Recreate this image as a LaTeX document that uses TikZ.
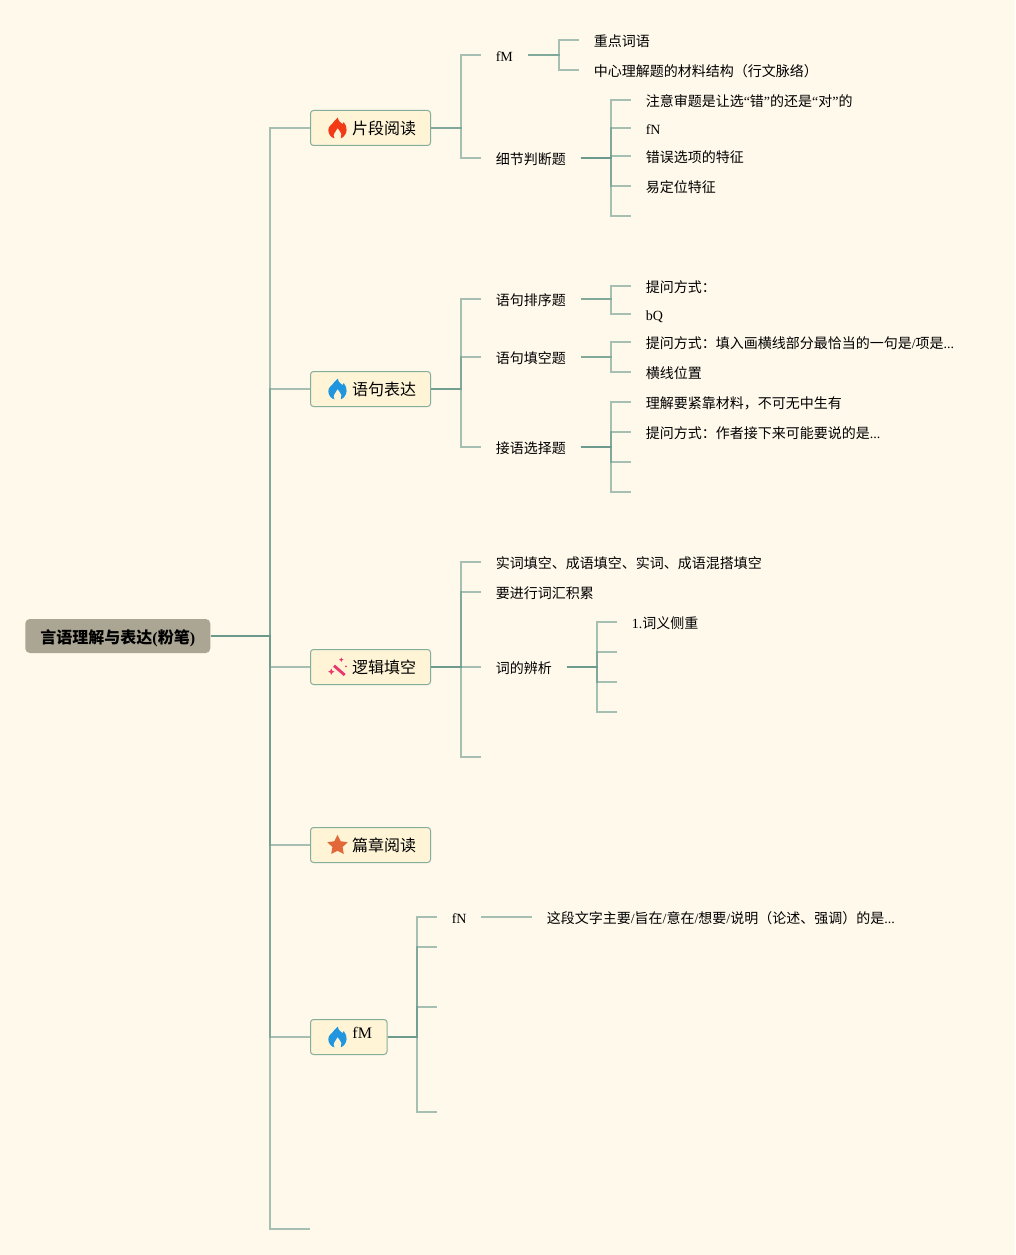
\documentclass[tikz,border=0pt]{standalone}
\usepackage{fontspec}
\setmainfont{Liberation Serif}
\newfontfamily\cjk{Noto Sans CJK SC}
\usetikzlibrary{calc}
\newdimen\px \px=0.75pt
\newcommand{\C}[1]{{\cjk #1}}
\definecolor{bgc}{HTML}{FFF9EC}
\definecolor{linec}{HTML}{6A9A8C}
\definecolor{topicfill}{HTML}{FFF5D6}
\definecolor{topicline}{HTML}{84AE9C}
\definecolor{rootfill}{HTML}{ABA694}
\definecolor{flamered}{HTML}{F23A17}
\definecolor{flameblue}{HTML}{2196DE}
\definecolor{starc}{HTML}{E2683A}
\definecolor{wandc}{HTML}{E8386F}
\tikzset{
  x=0.75pt,y=-0.75pt,
  rootbox/.style={draw=none,fill=rootfill,rounded corners=4.5\px,anchor=west,inner xsep=0pt,inner ysep=0pt,minimum width=185\px,minimum height=34\px,text height=15\px,text depth=0pt,font=\fontsize{12}{14}\selectfont\bfseries},
  topicbox/.style={draw=topicline,line width=1\px,fill=topicfill,rounded corners=3\px,anchor=west,inner xsep=14.5\px,inner ysep=0pt,minimum height=35\px,font=\fontsize{12}{14}\selectfont},
  leaf/.style={anchor=west,inner xsep=14.5\px,inner ysep=0pt,font=\fontsize{10.5}{12}\selectfont,text height=12.5\px,text depth=0pt},
  link/.style={draw=linec,line width=1.5\px,opacity=0.6,line join=miter},
}
% elbow connector: from #1 through the vertical at the x of #2 to #3
\newcommand{\elbow}[3]{\draw[link] (#1) -- (#1 -| #2) -- (#3 -| #2) -- (#3);}
\newcommand{\flame}[3]{% colour, x left, y top
  \begin{scope}[shift={(#2,#3)}]
    \fill[#1] (9.5,0) .. controls (10,4) and (13,5) .. (14.2,6.5)
      .. controls (15,5.8) and (15.4,5) .. (15.5,4.5)
      .. controls (17.5,7) and (18.5,10) .. (18.3,12.5)
      .. controls (18,16.5) and (15.5,19.5) .. (12.5,20.8)
      .. controls (14,18) and (13.5,15.5) .. (9.3,10.5)
      .. controls (7.5,14) and (3.5,17) .. (6.2,20.8)
      .. controls (3,20) and (0,17) .. (0,12.5)
      .. controls (0,8) and (4,7) .. (6,3.5)
      .. controls (7,2.2) and (8.5,1) .. (9.5,0) -- cycle;
  \end{scope}}
\begin{document}
\begin{tikzpicture}
\useasboundingbox (0,0) rectangle (1015,1255);
\fill[bgc] (0,0) rectangle (1015,1255);

% vertical rails
\coordinate (rail0) at (270,0);
\coordinate (rail1) at (461,0);
\coordinate (railA) at (559,0);
\coordinate (railB) at (611,0);
\coordinate (railC) at (597,0);
\coordinate (railD) at (417,0);

% root and topics
\node[rootbox] (root) at (25,636) {\C{言语理解与表达}(\C{粉笔})};
\node[topicbox] (t1) at (310,128) {\hspace*{27\px}\C{片段阅读}};
\node[topicbox] (t2) at (310,389) {\hspace*{27\px}\C{语句表达}};
\node[topicbox] (t3) at (310,667) {\hspace*{27\px}\C{逻辑填空}};
\node[topicbox] (t4) at (310,845) {\hspace*{27\px}\C{篇章阅读}};
\node[topicbox,minimum width=76.5\px,minimum height=35\px] (t5) at (310,1037) {\hspace*{27\px}\raisebox{8\px}{fM}};
\coordinate (t6) at (310,1229);

% icons
\flame{flamered}{328.3}{117.6}
\flame{flameblue}{328.3}{378.6}
\flame{flameblue}{328.3}{1026.6}
\begin{scope}[shift={(338,667)}]
  \draw[wandc,line width=2.8\px] (-4,-1.3) -- (6.7,8);
  \fill[wandc] (3.3,-9.6) -- (4,-8) -- (5.6,-7.3) -- (4,-6.6) -- (3.3,-5) -- (2.6,-6.6) -- (1,-7.3) -- (2.6,-8) -- cycle;
  \fill[wandc] (-6.7,1.5) -- (-5.7,3.7) -- (-3.5,4.7) -- (-5.7,5.7) -- (-6.7,7.9) -- (-7.7,5.7) -- (-9.9,4.7) -- (-7.7,3.7) -- cycle;
  \fill[wandc] (8,-0.7) circle (1\px);
\end{scope}
\fill[starc] (337.5,834.8) -- (340.7,841.2) -- (347.6,842.2) -- (342.6,847.1) -- (343.8,854) -- (337.5,850.8) -- (331.2,854) -- (332.4,847.1) -- (327.4,842.2) -- (334.3,841.2) -- cycle;

% level 2 of topic 1
\node[leaf] (a) at (481,55) {fM};
\node[leaf] (b) at (481,158) {\C{细节判断题}};
\node[leaf] (a1) at (579,40) {\C{重点词语}};
\node[leaf] (a2) at (579,70) {\C{中心理解题的材料结构（行文脉络）}};
\node[leaf] (b1) at (631,100) {\C{注意审题是让选}“\C{错}”\C{的还是}“\C{对}”\C{的}};
\node[leaf] (b2) at (631,128) {fN};
\node[leaf] (b3) at (631,156) {\C{错误选项的特征}};
\node[leaf] (b4) at (631,186) {\C{易定位特征}};
\coordinate (b5) at (631,216);

% topic 2
\node[leaf] (c) at (481,299) {\C{语句排序题}};
\node[leaf] (d) at (481,357) {\C{语句填空题}};
\node[leaf] (e) at (481,447) {\C{接语选择题}};
\node[leaf] (c1) at (631,286) {\C{提问方式：}};
\node[leaf] (c2) at (631,314) {bQ};
\node[leaf] (d1) at (631,342) {\C{提问方式：填入画横线部分最恰当的一句是}/\C{项是}...};
\node[leaf] (d2) at (631,372) {\C{横线位置}};
\node[leaf] (e1) at (631,402) {\C{理解要紧靠材料，不可无中生有}};
\node[leaf] (e2) at (631,432) {\C{提问方式：作者接下来可能要说的是}...};
\coordinate (e3) at (631,462);
\coordinate (e4) at (631,492);

% topic 3
\node[leaf] (f) at (481,562) {\C{实词填空、成语填空、实词、成语混搭填空}};
\node[leaf] (g) at (481,592) {\C{要进行词汇积累}};
\node[leaf] (h) at (481,667) {\C{词的辨析}};
\coordinate (i) at (481,757);
\node[leaf] (h1) at (617,622) {1.\C{词义侧重}};
\coordinate (h2) at (617,652);
\coordinate (h3) at (617,682);
\coordinate (h4) at (617,712);

% topic 5
\node[leaf] (j) at (437,917) {fN};
\coordinate (k) at (437,947);
\coordinate (l) at (437,1007);
\coordinate (m) at (437,1112);
\node[leaf] (j1) at (532,917) {\C{这段文字主要}/\C{旨在}/\C{意在}/\C{想要}/\C{说明（论述、强调）的是}...};

% connectors
\foreach \n in {t1,t2,t3,t4,t5}{\elbow{root.east}{rail0}{\n.west}}
\elbow{root.east}{rail0}{t6}
\foreach \n in {a,b}{\elbow{t1.east}{rail1}{\n.west}}
\foreach \n in {a1,a2}{\elbow{a.east}{railA}{\n.west}}
\foreach \n in {b1,b2,b3,b4}{\elbow{b.east}{railB}{\n.west}}
\elbow{b.east}{railB}{b5}
\foreach \n in {c,d,e}{\elbow{t2.east}{rail1}{\n.west}}
\foreach \n in {c1,c2}{\elbow{c.east}{railB}{\n.west}}
\foreach \n in {d1,d2}{\elbow{d.east}{railB}{\n.west}}
\foreach \n in {e1,e2}{\elbow{e.east}{railB}{\n.west}}
\foreach \n in {e3,e4}{\elbow{e.east}{railB}{\n}}
\foreach \n in {f,g,h}{\elbow{t3.east}{rail1}{\n.west}}
\elbow{t3.east}{rail1}{i}
\elbow{h.east}{railC}{h1.west}
\foreach \n in {h2,h3,h4}{\elbow{h.east}{railC}{\n}}
\elbow{t5.east}{railD}{j.west}
\foreach \n in {k,l,m}{\elbow{t5.east}{railD}{\n}}
\draw[link] (j.east) -- (j1.west);
\end{tikzpicture}
\end{document}
